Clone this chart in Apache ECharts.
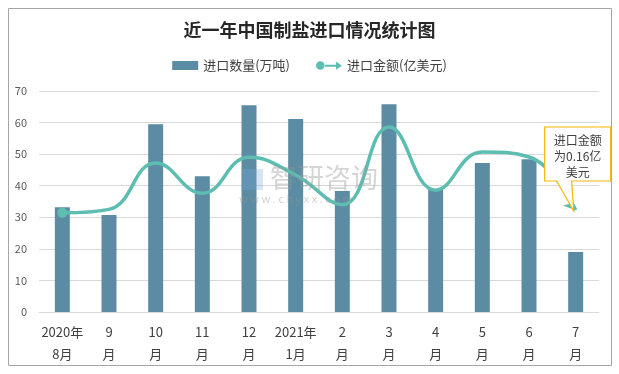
<!DOCTYPE html>
<html><head><meta charset="utf-8">
<script src="https://cdn.jsdelivr.net/npm/echarts@6/dist/echarts.min.js"></script>
<style>html,body{margin:0;padding:0;background:#fff}#c{width:619px;height:374px}</style>
</head><body><div id="c"></div>
<script>
var categories = ['2020年\n8月','9\n月','10\n月','11\n月','12\n月','2021年\n1月','2\n月','3\n月','4\n月','5\n月','6\n月','7\n月'];
var quantity = [33.2, 30.7, 59.5, 43.0, 65.5, 61.1, 38.3, 65.8, 38.9, 47.2, 48.4, 19.0];
var amount = [0.157, 0.1625, 0.236, 0.188, 0.245, 0.217, 0.17, 0.293, 0.193, 0.2535, 0.2455, 0.1615];
var yTicks = [0, 10, 20, 30, 40, 50, 60, 70];
var calloutText = '进口金额\n为0.16亿\n美元';

var font = '"Microsoft YaHei","Noto Sans CJK SC",sans-serif';
var chart = echarts.init(document.getElementById('c'));
var lastIdx = amount.length - 1;
var lineData = amount.map(function (v, i) {
  if (i === 0) return {value: v, symbol: 'circle', symbolSize: 10};
  if (i === lastIdx) return {value: v, symbol: 'arrow', symbolSize: [9, 12], symbolRotate: -135};
  return {value: v, symbol: 'none'};
});
chart.setOption({
  animation: false,
  title: {
    text: '近一年中国制盐进口情况统计图', left: 'center', top: 16,
    textStyle: {fontSize: 18, fontWeight: 'bold', color: '#262626', fontFamily: '"Noto Sans CJK SC",serif'}
  },
  legend: {
    top: 54, left: 'center', itemGap: 26, itemWidth: 26, itemHeight: 9,
    textStyle: {fontSize: 13, color: '#404040', fontFamily: font},
    data: [
      {name: '进口数量(万吨)', icon: 'rect'},
      {name: '进口金额(亿美元)', icon: 'path://M0,5a5,5 0 1,0 10,0a5,5 0 1,0 -10,0M9,4h15v2.4h-15zM23,0.5l7,4.7l-7,4.7z'}
    ]
  },
  grid: {left: 39, right: 20, top: 91, bottom: 62},
  xAxis: {
    type: 'category', data: categories,
    axisLine: {lineStyle: {color: '#d9d9d9'}}, axisTick: {show: false},
    axisLabel: {fontSize: 13, color: '#404040', lineHeight: 22, margin: 9, interval: 0, fontFamily: font}
  },
  yAxis: [{
    type: 'value', min: yTicks[0], max: yTicks[yTicks.length - 1], interval: 10,
    axisLine: {show: false}, axisTick: {show: false},
    axisLabel: {fontSize: 11, color: '#595959', margin: 12, fontFamily: font},
    splitLine: {lineStyle: {color: '#d9d9d9'}}
  }, {
    type: 'value', min: 0, max: 0.35, show: false, splitLine: {show: false}
  }],
  series: [{
    name: '进口数量(万吨)', type: 'bar', data: quantity, barWidth: 15,
    itemStyle: {color: '#5b8ca3'}
  }, {
    name: '进口金额(亿美元)', type: 'line', yAxisIndex: 1, data: lineData, smooth: 0.45,
    lineStyle: {color: '#5cbdb0', width: 3.5}, itemStyle: {color: '#5cbdb0'}, z: 5
  }]
});
var tip = chart.convertToPixel({xAxisIndex: 0, yAxisIndex: 1}, [lastIdx, amount[lastIdx]]);
var tx = tip[0] - 2, ty = tip[1] + 1;
var bx = tx - 29, by = ty - 84, bw = 66, bh = 54;
chart.setOption({
  graphic: [{
    id: 'border', type: 'rect', shape: {x: 8.5, y: 8.5, width: 603, height: 357},
    style: {fill: 'none', stroke: '#a6a6a6', lineWidth: 1}, silent: true, z: -1
  }, {
    id: 'wmIcon', type: 'rect', shape: {x: 241, y: 169, width: 22, height: 21},
    style: {fill: 'rgba(120,170,220,0.3)'}, z: 20, silent: true
  }, {
    id: 'wm1', type: 'text', x: 270, y: 164,
    style: {text: '智研咨询', fontSize: 27, fill: 'rgba(150,150,150,0.4)', fontFamily: font}, z: 20, silent: true
  }, {
    id: 'wm2', type: 'text', x: 239, y: 193,
    style: {text: 'w w w . c h y x x . c o m', fontSize: 11, fill: 'rgba(150,150,150,0.45)', fontFamily: font}, z: 20, silent: true
  }, {
    id: 'callout', type: 'polygon', z: 10,
    shape: {points: [[bx, by], [bx + bw, by], [bx + bw, by + bh], [tx - 2, by + bh], [tx, ty], [tx - 17, by + bh], [bx, by + bh]]},
    style: {fill: '#fff', stroke: '#f5b800', lineWidth: 1.2}
  }, {
    id: 'calloutText', type: 'text', z: 11, x: bx + bw / 2, y: by + 5,
    style: {text: calloutText, textAlign: 'center', fontSize: 12, lineHeight: 16, fill: '#404040', fontFamily: font}
  }]
});
</script></body></html>
